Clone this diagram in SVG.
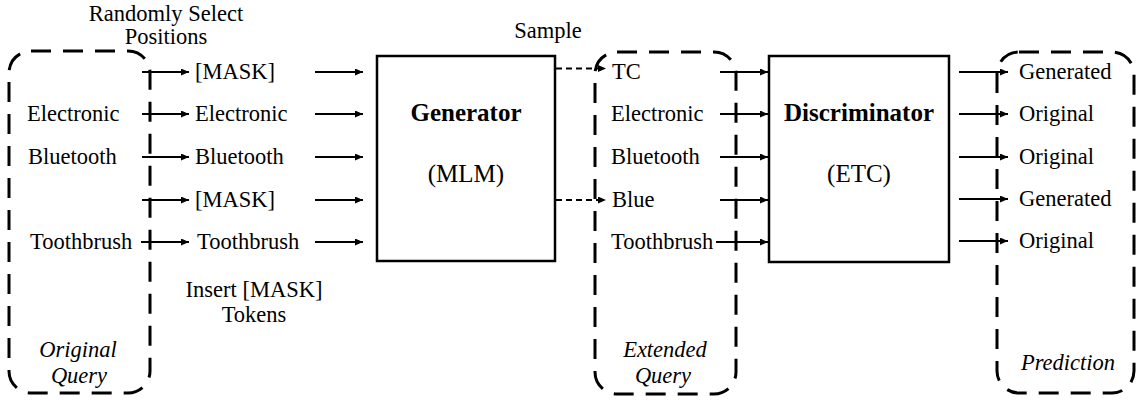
<svg xmlns="http://www.w3.org/2000/svg" width="1137" height="403" viewBox="0 0 1137 403">
<defs>
<marker id="ah" viewBox="0 0 8 7" refX="8" refY="3.5" markerWidth="8" markerHeight="7" markerUnits="userSpaceOnUse" orient="auto">
<path d="M0,0 L8,3.5 L0,7 Z" fill="#000"/>
</marker>
<style>
text{font-family:"Liberation Serif","Times New Roman",serif;font-size:22.5px;fill:#000}
.b{font-weight:bold;font-size:25px}
.big{font-size:25px}
.i{font-style:italic}
.m{text-anchor:middle}
.grp{fill:none;stroke:#000;stroke-width:3;stroke-dasharray:20 12}
.box{fill:#fff;stroke:#000;stroke-width:2.5}
.ar{stroke:#000;stroke-width:2;fill:none;marker-end:url(#ah)}
.da{stroke:#000;stroke-width:2;fill:none;stroke-dasharray:6 4;marker-end:url(#ah)}
</style>
</defs>
<g id="original-query">
<rect class="grp" x="9" y="51" width="141" height="342" rx="22"/>
<text x="27" y="121">Electronic</text>
<text x="28" y="164">Bluetooth</text>
<text x="30" y="249">Toothbrush</text>
<text class="i m" x="78" y="357">Original</text>
<text class="i m" x="79" y="383">Query</text>
</g>
<g id="masked-tokens">
<text x="195" y="79">[MASK]</text>
<text x="195" y="121">Electronic</text>
<text x="195" y="164">Bluetooth</text>
<text x="195" y="207">[MASK]</text>
<text x="197" y="249">Toothbrush</text>
</g>
<g id="labels">
<text class="m" x="166" y="21">Randomly Select</text>
<text class="m" x="166" y="44">Positions</text>
<text class="m" x="254" y="297">Insert [MASK]</text>
<text class="m" x="254" y="322">Tokens</text>
<text class="m" x="548" y="38">Sample</text>
</g>
<g id="generator">
<rect class="box" x="377" y="56" width="178" height="205"/>
<text class="b m" x="466" y="121">Generator</text>
<text class="big m" x="466" y="182">(MLM)</text>
</g>
<g id="extended-query">
<rect class="grp" x="595" y="52" width="141" height="342" rx="22"/>
<text x="612" y="79">TC</text>
<text x="611" y="121">Electronic</text>
<text x="611" y="164">Bluetooth</text>
<text x="612" y="207">Blue</text>
<text x="611" y="249">Toothbrush</text>
<text class="i m" x="665" y="357">Extended</text>
<text class="i m" x="663" y="383">Query</text>
</g>
<g id="discriminator">
<rect class="box" x="769" y="56" width="180" height="206"/>
<text class="b m" x="859" y="121">Discriminator</text>
<text class="big m" x="859" y="182">(ETC)</text>
</g>
<g id="prediction">
<rect class="grp" x="997" y="52" width="137" height="341" rx="22"/>
<text x="1019" y="79">Generated</text>
<text x="1019" y="121">Original</text>
<text x="1019" y="164">Original</text>
<text x="1019" y="206">Generated</text>
<text x="1019" y="248">Original</text>
<text class="i m" x="1068" y="370">Prediction</text>
</g>
<g id="connectors">
<path class="ar" d="M142,72 H189"/>
<path class="ar" d="M142,114 H189"/>
<path class="ar" d="M142,157 H189"/>
<path class="ar" d="M142,200 H189"/>
<path class="ar" d="M141,242 H189"/>
<path class="ar" d="M315,72 H363"/>
<path class="ar" d="M315,114 H363"/>
<path class="ar" d="M315,157 H363"/>
<path class="ar" d="M315,200 H363"/>
<path class="ar" d="M315,242 H363"/>
<path class="da" d="M556,68.5 H606"/>
<path class="da" d="M556,200 H606"/>
<path class="ar" d="M720,72 H768"/>
<path class="ar" d="M720,114 H768"/>
<path class="ar" d="M720,157 H768"/>
<path class="ar" d="M720,200 H768"/>
<path class="ar" d="M716,242 H768"/>
<path class="ar" d="M959,72 H1008"/>
<path class="ar" d="M959,114 H1008"/>
<path class="ar" d="M959,157 H1008"/>
<path class="ar" d="M959,199 H1008"/>
<path class="ar" d="M959,241 H1008"/>
</g>
</svg>
